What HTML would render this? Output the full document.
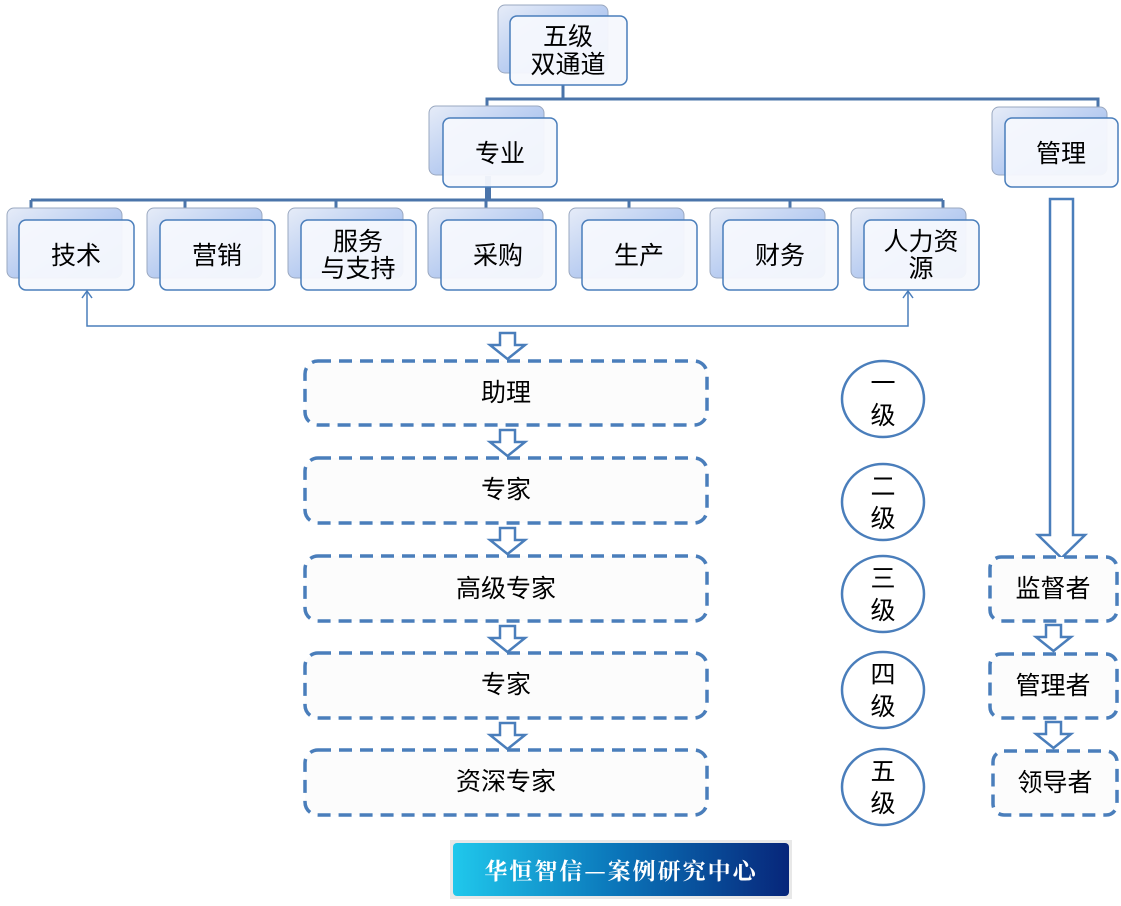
<!DOCTYPE html>
<html><head><meta charset="utf-8"><style>
body{margin:0;background:#fff;}
svg text{font-family:"Liberation Sans","Noto Sans CJK SC",sans-serif;font-size:25px;fill:#000;text-anchor:middle;}
</style></head><body>
<svg width="1121" height="901" viewBox="0 0 1121 901" xmlns="http://www.w3.org/2000/svg">
<defs>
<linearGradient id="bk" x1="0" y1="0" x2="1" y2="1">
<stop offset="0" stop-color="#e6ecf8"/><stop offset="1" stop-color="#8fb0ea"/>
</linearGradient>
<linearGradient id="ban" x1="0" y1="0" x2="1" y2="0">
<stop offset="0" stop-color="#20c8ec"/><stop offset="0.5" stop-color="#0a73b8"/><stop offset="1" stop-color="#07267a"/>
</linearGradient>
</defs>
<g stroke="#4a74aa" fill="none">
<polyline points="563,85 563,99" stroke-width="3"/>
<polyline points="487,107 487,99 1098,99 1098,108" stroke-width="3"/>
<line x1="488" y1="176" x2="488" y2="201" stroke-width="6"/>
<line x1="31" y1="200" x2="943" y2="200" stroke-width="3"/>
<g stroke-width="3">
<line x1="31" y1="200" x2="31" y2="209"/><line x1="185" y1="200" x2="185" y2="209"/><line x1="336" y1="200" x2="336" y2="209"/><line x1="486" y1="200" x2="486" y2="209"/><line x1="629" y1="200" x2="629" y2="209"/><line x1="790" y1="200" x2="790" y2="209"/><line x1="943" y1="200" x2="943" y2="209"/>
</g>
</g>
<g>
<g transform="translate(498,5)"><rect x="0" y="0" width="110" height="68" rx="7" fill="url(#bk)" stroke="#9aa8c0"/><rect x="12" y="11" width="117" height="69" rx="7" fill="#f6f8fd" fill-opacity="0.95" stroke="#4a7ebb" stroke-width="1.5"/></g>
<g transform="translate(429,106)"><rect x="0" y="0" width="115" height="69" rx="7" fill="url(#bk)" stroke="#9aa8c0"/><rect x="14" y="12" width="114" height="69" rx="7" fill="#f6f8fd" fill-opacity="0.95" stroke="#4a7ebb" stroke-width="1.5"/></g>
<g transform="translate(992,107)"><rect x="0" y="0" width="115" height="68" rx="7" fill="url(#bk)" stroke="#9aa8c0"/><rect x="13" y="11" width="113" height="69" rx="7" fill="#f6f8fd" fill-opacity="0.95" stroke="#4a7ebb" stroke-width="1.5"/></g>
</g>
<g>
<g transform="translate(7,208)"><rect width="115" height="70" rx="7" fill="url(#bk)" stroke="#9aa8c0"/><rect x="12" y="12" width="115" height="70" rx="7" fill="#f6f8fd" fill-opacity="0.95" stroke="#4a7ebb" stroke-width="1.5"/></g>
<g transform="translate(147,208)"><rect width="115" height="70" rx="7" fill="url(#bk)" stroke="#9aa8c0"/><rect x="13" y="12" width="115" height="70" rx="7" fill="#f6f8fd" fill-opacity="0.95" stroke="#4a7ebb" stroke-width="1.5"/></g>
<g transform="translate(288,208)"><rect width="115" height="70" rx="7" fill="url(#bk)" stroke="#9aa8c0"/><rect x="13" y="12" width="115" height="70" rx="7" fill="#f6f8fd" fill-opacity="0.95" stroke="#4a7ebb" stroke-width="1.5"/></g>
<g transform="translate(428,208)"><rect width="115" height="70" rx="7" fill="url(#bk)" stroke="#9aa8c0"/><rect x="13" y="12" width="115" height="70" rx="7" fill="#f6f8fd" fill-opacity="0.95" stroke="#4a7ebb" stroke-width="1.5"/></g>
<g transform="translate(569,208)"><rect width="115" height="70" rx="7" fill="url(#bk)" stroke="#9aa8c0"/><rect x="13" y="12" width="115" height="70" rx="7" fill="#f6f8fd" fill-opacity="0.95" stroke="#4a7ebb" stroke-width="1.5"/></g>
<g transform="translate(710,208)"><rect width="115" height="70" rx="7" fill="url(#bk)" stroke="#9aa8c0"/><rect x="13" y="12" width="115" height="70" rx="7" fill="#f6f8fd" fill-opacity="0.95" stroke="#4a7ebb" stroke-width="1.5"/></g>
<g transform="translate(851,208)"><rect width="115" height="70" rx="7" fill="url(#bk)" stroke="#9aa8c0"/><rect x="13" y="12" width="115" height="70" rx="7" fill="#f6f8fd" fill-opacity="0.95" stroke="#4a7ebb" stroke-width="1.5"/></g>
</g>
<text x="568" y="45">五级</text><text x="568" y="73">双通道</text>
<text x="500" y="162">专业</text>
<text x="1061" y="162">管理</text>
<text x="76" y="264">技术</text>
<text x="217" y="264">营销</text>
<text x="358" y="250">服务</text><text x="358" y="277">与支持</text>
<text x="498" y="264">采购</text>
<text x="639" y="264">生产</text>
<text x="780" y="264">财务</text>
<text x="921" y="250">人力资</text><text x="921" y="277">源</text>
<g stroke="#4a7ebb" fill="none" stroke-width="1.5">
<polyline points="87,292 87,326 908,326 908,292"/>
<polyline points="82,298 87,291 92,298"/>
<polyline points="903,298 908,291 913,298"/>
</g>
<g fill="#fff" stroke="#4a7ebb" stroke-width="2.5">
<path d="M500,333 h15 v12 h10 l-17.5,14 l-17.5,-14 h10 z"/>
<path d="M500,430 h15 v12 h10 l-17.5,14 l-17.5,-14 h10 z"/>
<path d="M500,528 h15 v12 h10 l-17.5,14 l-17.5,-14 h10 z"/>
<path d="M500,626 h15 v12 h10 l-17.5,14 l-17.5,-14 h10 z"/>
<path d="M500,723 h15 v12 h10 l-17.5,14 l-17.5,-14 h10 z"/>
<path d="M1046,625 h15 v12 h10 l-17.5,14 l-17.5,-14 h10 z"/>
<path d="M1046,722 h15 v12 h10 l-17.5,14 l-17.5,-14 h10 z"/>
<path d="M1050,199 h23 v336 h12 l-23.5,23 l-23.5,-23 h12 z"/>
</g>
<g fill="#fcfcfc" stroke="#4a7ebb" stroke-width="3.5" stroke-dasharray="13,8">
<rect x="305" y="361" width="402" height="64" rx="13"/>
<rect x="305" y="458" width="402" height="65" rx="13"/>
<rect x="305" y="556" width="402" height="65" rx="13"/>
<rect x="305" y="653" width="402" height="65" rx="13"/>
<rect x="305" y="750" width="402" height="65" rx="13"/>
<rect x="990" y="557" width="127" height="64" rx="11"/>
<rect x="990" y="654" width="127" height="64" rx="11"/>
<rect x="993" y="751" width="124" height="64" rx="11"/>
</g>
<text x="506" y="401">助理</text>
<text x="506" y="498">专家</text>
<text x="506" y="597">高级专家</text>
<text x="506" y="693">专家</text>
<text x="506" y="790">资深专家</text>
<text x="1053" y="597">监督者</text>
<text x="1053" y="694">管理者</text>
<text x="1055" y="791">领导者</text>
<g fill="#fff" stroke="#4a7ebb" stroke-width="2.5">
<ellipse cx="883" cy="399" rx="41" ry="38"/>
<ellipse cx="883" cy="502" rx="41" ry="38"/>
<ellipse cx="883" cy="594" rx="41" ry="38"/>
<ellipse cx="883" cy="690" rx="41" ry="38"/>
<ellipse cx="883" cy="787" rx="41" ry="38"/>
</g>
<text x="883" y="392">一</text><text x="883" y="424">级</text>
<text x="883" y="495">二</text><text x="883" y="527">级</text>
<text x="883" y="587">三</text><text x="883" y="619">级</text>
<text x="883" y="683">四</text><text x="883" y="715">级</text>
<text x="883" y="780">五</text><text x="883" y="812">级</text>
<rect x="450" y="840" width="342" height="59" fill="#e8e8e8"/>
<rect x="453" y="843" width="336" height="53" rx="4" fill="url(#ban)"/>
<text x="621" y="879" style="fill:#fff;font-size:23px;font-weight:bold;font-family:'Noto Serif CJK SC','Liberation Serif',serif;letter-spacing:2px">华恒智信—案例研究中心</text>
</svg>
</body></html>
